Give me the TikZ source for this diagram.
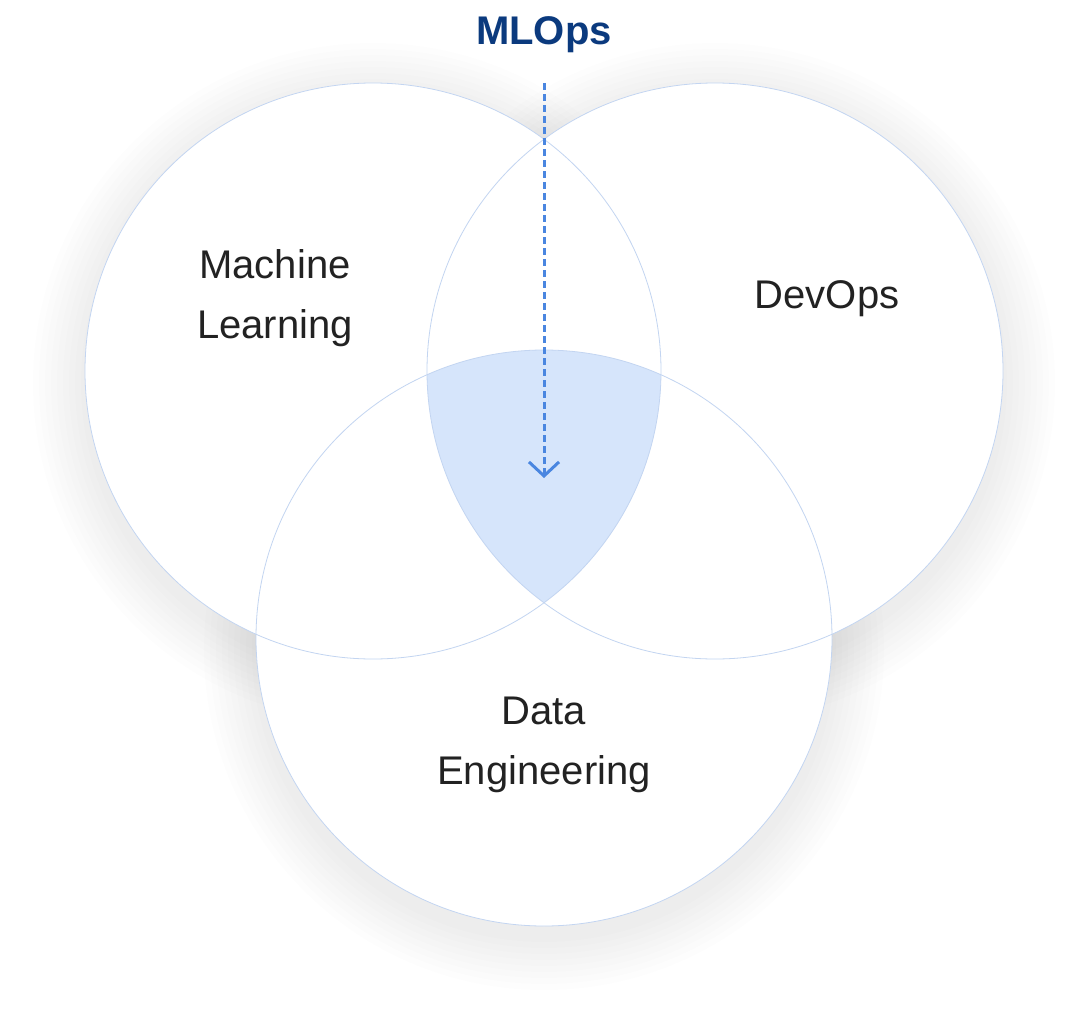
\documentclass[tikz,border=0pt]{standalone}
\usepackage{fontspec}
\setmainfont{Liberation Sans}
\usetikzlibrary{arrows.meta,positioning}
\definecolor{ringblue}{HTML}{C3D5F1}
\definecolor{coreblue}{HTML}{D6E5FB}
\definecolor{arrowblue}{HTML}{4A86E0}
\definecolor{titleblue}{HTML}{0B3A7E}
\definecolor{textgray}{HTML}{222222}

\begin{document}
\begin{tikzpicture}[x=1pt, y=-1pt,
                    ring/.style={circle, draw=ringblue, line width=0.8pt, minimum size=576pt, inner sep=0pt},
                    label/.style={font=\fontsize{40}{60}\selectfont, text=textgray, align=center}]
   \useasboundingbox (0,0) rectangle (1080,1017);
   \fill[white] (0,0) rectangle (1080,1017);

   % soft shadows
   \foreach \cx/\cy in {373/371, 715/371, 544/638}
      \foreach \r in {340,334,...,292}
         \fill[black, opacity=0.008] (\cx,\cy+12) circle (\r);
   \foreach \cx/\cy in {373/371, 715/371, 544/638}
      \fill[white] (\cx,\cy) circle (288);

   % shaded core
   \begin{scope}
      \clip (373,371) circle (288);
      \clip (715,371) circle (288);
      \fill[coreblue] (544,638) circle (288);
   \end{scope}

   \node[ring] (ml) at (373,371) {};
   \node[ring] (dev) at (715,371) {};
   \node[ring] (data) at (544,638) {};

   \node[label] (mltext) at (275,298) {Machine\\Learning};
   \node[label] (devtext) at (827,299) {DevOps};
   \node[label] (datatext) at (544,745) {Data\\Engineering};

   \node[font=\fontsize{40}{44}\selectfont\bfseries, text=titleblue] (mlops) at (544,35) {MLOps};
   \coordinate (start) at (544,83);
   \coordinate (core) at (544,478);

   \draw[arrowblue, line width=3pt, dash pattern=on 7pt off 4pt,
         -{Straight Barb[length=14pt, width=30pt, line width=3pt]}]
      (start) -- (core);
\end{tikzpicture}
\end{document}
